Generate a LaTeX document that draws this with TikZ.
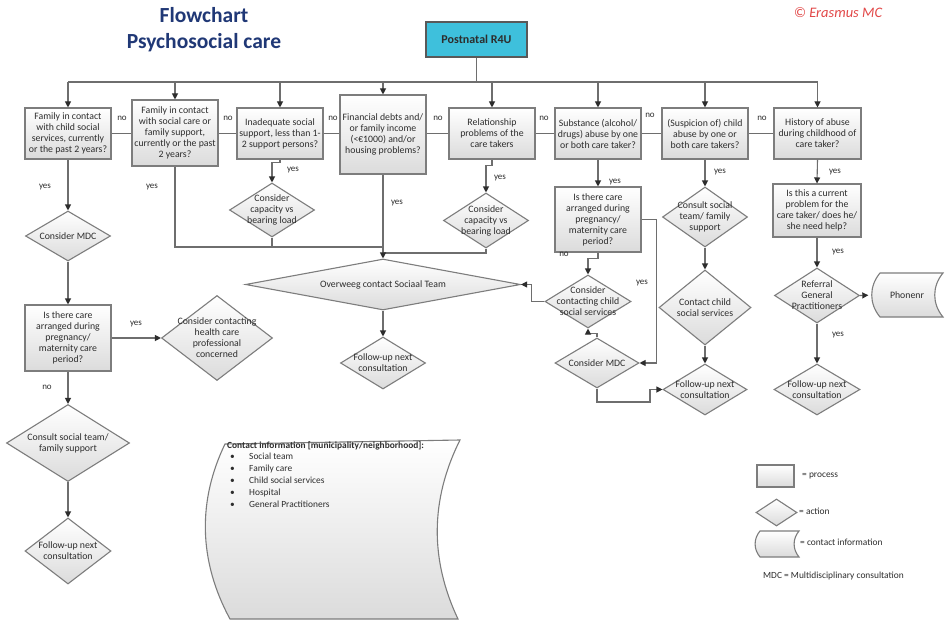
\documentclass[tikz,border=0pt]{standalone}
\usepackage{fontspec}
\setmainfont{Carlito}
\newfontfamily\eurofont{Liberation Sans}
\usetikzlibrary{shapes.geometric,arrows.meta}

\definecolor{edgegray}{RGB}{125,125,125}
\definecolor{wiregray}{RGB}{110,110,110}
\definecolor{tipgray}{RGB}{45,45,45}
\definecolor{titleblue}{RGB}{32,56,118}
\definecolor{startcyan}{RGB}{62,192,220}
\definecolor{logored}{RGB}{226,72,72}
\definecolor{inkgray}{RGB}{45,45,45}

\newcommand\myboxfont{\fontsize{9.8}{11}\selectfont}
\newcommand\mytagfont{\fontsize{9}{10}\selectfont}
\newcommand\mynotefont{\fontsize{9.4}{11.8}\selectfont}
\newcommand\euro{{\eurofont\fontsize{8.6}{11}\selectfont €}}

\tikzset{
  wire/.style={draw=wiregray, line width=1.1pt},
  arr/.style={wire, -{Triangle[length=6pt,width=6pt,color=tipgray]}},
  softfill/.style={top color=white, bottom color=black!14},
  proc/.style 2 args={draw=edgegray, line width=1.1pt, softfill, minimum width=#1, minimum height=#2,
    inner sep=1pt, align=center, font=\myboxfont, text=inkgray},
  dia/.style 2 args={shape=diamond, draw=edgegray, line width=1.1pt, softfill,
    minimum width=#1, minimum height=#2, inner sep=0pt},
  dtext/.style={align=center, font=\myboxfont, text=inkgray, inner sep=0pt},
  tag/.style={font=\mytagfont, text=inkgray, inner sep=0pt},
  note/.style={font=\mynotefont, text=inkgray, inner sep=0pt},
  datashape/.style={draw=edgegray, line width=1.1pt, softfill},
}

\begin{document}
\begin{tikzpicture}[x=1pt,y=-1pt]
\useasboundingbox (0,0) rectangle (946,626);
\fill[white] (0,0) rectangle (946,626);

% headings
\node[font=\fontsize{21.5}{26}\selectfont\bfseries, text=titleblue, align=center] (title) at (204,30)
  {Flowchart\\Psychosocial care};
\node[font=\fontsize{14.5}{16}\selectfont\itshape, text=logored] (copy) at (838,13) {\textcopyright\ Erasmus MC};

% start
\node[draw=black!65, line width=1.1pt, fill=startcyan, minimum width=101pt, minimum height=35pt,
  font=\fontsize{12}{14}\selectfont\bfseries, text=inkgray] (r4u) at (476.5,39.5) {Postnatal R4U};

% screening questions
\node[proc={86pt}{51pt}] (q1) at (68,133.5) {Family in contact\\with child social\\services, currently\\or the past 2 years?};
\node[proc={86pt}{66pt}] (q2) at (175,133) {Family in contact\\with social care or\\family support,\\currently or the past\\2 years?};
\node[proc={86pt}{51pt}] (q3) at (280,133.5) {Inadequate social\\support, less than 1-\\2 support persons?};
\node[proc={86pt}{79pt}] (q4) at (383,134.5) {Financial debts and/\\or family income\\(<\euro1000) and/or\\housing problems?};
\node[proc={86pt}{51pt}] (q5) at (492,133.5) {Relationship\\problems of the\\care takers};
\node[proc={86pt}{51pt}] (q6) at (598,133.5) {Substance (alcohol/\\drugs) abuse by one\\or both care taker?};
\node[proc={86pt}{51pt}] (q7) at (705,133.5) {(Suspicion of) child\\abuse by one or\\both care takers?};
\node[proc={87pt}{51pt}] (q8) at (817.5,133.5) {History of abuse\\during childhood of\\care taker?};

% bus from the start box
\coordinate (busL) at (68,82);
\coordinate (busR) at (817.5,82);
\draw[wire] (r4u.south) -- (r4u.south |- busL);
\draw[wire] (busL) -- (busR);
\foreach \q in {q1,q2,q3,q4,q5,q6,q7,q8}
  \draw[arr] (\q.north |- busL) -- (\q.north);

% "no" links between the questions
\draw[wire] (q1.east) -- (q1.east -| q2.west);
\draw[wire] (q2.east |- q1.east) -- (q3.west);
\draw[wire] (q3.east) -- (q3.east -| q4.west);
\draw[wire] (q4.east |- q3.east) -- (q5.west);
\draw[wire] (q5.east) -- (q6.west);
\draw[wire] (q6.east) -- (q7.west);
\draw[wire] (q7.east) -- (q8.west);
\node[tag] (n12) at (122,118) {no};
\node[tag] (n23) at (228,118) {no};
\node[tag] (n34) at (333,118) {no};
\node[tag] (n45) at (438,118) {no};
\node[tag] (n56) at (544,118) {no};
\node[tag] (n67) at (650,115) {no};
\node[tag] (n78) at (762,118) {no};

% left column
\node[dia={85pt}{50pt}] (mdcA) at (68,236) {};
\node[dtext] (mdcAt) at (mdcA) {Consider MDC};
\node[proc={86pt}{66pt}] (careA) at (68,338) {Is there care\\arranged during\\pregnancy/\\maternity care\\period?};
\node[dia={111pt}{85pt}] (hcp) at (217,338) {};
\node[dtext] (hcpt) at (hcp) {Consider contacting\\health care\\professional\\concerned};
\node[dia={123pt}{77pt}] (teamA) at (68,443) {};
\node[dtext] (teamAt) at (teamA) {Consult social team/\\family support};
\node[dia={86pt}{66pt}] (fuA) at (68,551) {};
\node[dtext] (fuAt) at (fuA) {Follow-up next\\consultation};

\draw[arr] (q1.south) -- (mdcA.north);
\draw[arr] (mdcA.south) -- (careA.north);
\draw[arr] (careA.east) -- (hcp.west);
\draw[arr] (careA.south) -- (teamA.north);
\draw[arr] (teamA.south) -- (fuA.north);
\node[tag] (y1) at (45,187) {yes};
\node[tag] (yA) at (136,324) {yes};
\node[tag] (nA) at (47,387) {no};

% middle: capacity checks and the social team
\node[dia={85pt}{54pt}] (capA) at (272,210) {};
\node[dtext] (capAt) at (capA) {Consider\\capacity vs\\bearing load};
\node[dia={85pt}{55pt}] (capB) at (486,220.5) {};
\node[dtext] (capBt) at (capB) {Consider\\capacity vs\\bearing load};
\node[dia={275pt}{51pt}] (team) at (383,284.5) {};
\node[dtext] (teamt) at (team) {Overweeg contact Sociaal Team};
\node[dia={85pt}{52pt}] (fuB) at (383,363) {};
\node[dtext] (fuBt) at (fuB) {Follow-up next\\consultation};

\coordinate (j1) at (383,247);
\coordinate (j2) at (383,253);
\draw[arr] (q3.south) -- ++(0,3) -| (capA.north);
\draw[arr] (q5.south) -- ++(0,6) -| (capB.north);
\draw[wire] (q2.south) |- (j1);
\draw[wire] (capA.south) -- (capA.south |- j1);
\draw[wire] (capB.south) |- (j2);
\draw[arr] (q4.south) -- (team.north);
\draw[arr] (team.south) -- (fuB.north);
\node[tag] (y2) at (152,187) {yes};
\node[tag] (y3) at (293,170) {yes};
\node[tag] (y4) at (397,203) {yes};
\node[tag] (y5) at (500,178) {yes};

% substance abuse branch
\node[proc={86pt}{65pt}] (careB) at (598,219.5) {Is there care\\arranged during\\pregnancy/\\maternity care\\period?};
\node[dia={86pt}{53pt}] (child) at (588,301.5) {};
\node[dtext] (childt) at (child) {Consider\\contacting child\\social services};
\node[dia={84pt}{50pt}] (mdcB) at (597,363) {};
\node[dtext] (mdcBt) at (mdcB) {Consider MDC};

\coordinate (k1) at (650,402);
\draw[arr] (q6.south) -- (careB.north);
\draw[arr] (careB.south) -- ++(0,6) -| (child.north);
\draw[arr] (child.west) -- ++(-13,0) |- (team.east);
\draw[arr] (careB.east) -- ++(15,0) |- (mdcB.east);
\draw[arr] (mdcB.north) -- ++(0,-4) -| (child.south);
\node[tag] (y6) at (615,182) {yes};
\node[tag] (nB) at (564,254) {no};
\node[tag] (yB) at (642,283) {yes};

% child abuse branch
\node[dia={85pt}{60pt}] (teamB) at (705,217) {};
\node[dtext] (teamBt) at (teamB) {Consult social\\team/ family\\support};
\node[dia={92pt}{75pt}] (cps) at (705,307.5) {};
\node[dtext] (cpst) at (cps) {Contact child\\social services};
\node[dia={84pt}{51pt}] (fuC) at (705,389.5) {};
\node[dtext] (fuCt) at (fuC) {Follow-up next\\consultation};

\draw[arr] (q7.south) -- (teamB.north);
\draw[arr] (teamB.south) -- (cps.north);
\draw[arr] (cps.south) -- (fuC.north);
\draw[arr] (mdcB.south) |- (k1) |- (fuC.west);
\node[tag] (y7) at (720,172) {yes};

% history of abuse branch
\node[proc={88pt}{53pt}] (help) at (817,210.5) {Is this a current\\problem for the\\care taker/ does he/\\she need help?};
\node[dia={85pt}{55pt}] (gp) at (817,295.5) {};
\node[dtext] (gpt) at (gp) {Referral\\General\\Practitioners};
\node[dia={86pt}{51pt}] (fuD) at (817,389.5) {};
\node[dtext] (fuDt) at (fuD) {Follow-up next\\consultation};

\path[datashape] (880,273) -- (943,273) to[bend right=40] (943,317) -- (880,317) to[bend left=40] (880,273) -- cycle;
\node[minimum width=63pt, minimum height=44pt, inner sep=0pt, font=\myboxfont, text=inkgray] (phone) at (907,295) {Phonenr};

\draw[arr] (q8.south) -- (help.north);
\draw[arr] (help.south) -- (gp.north);
\draw[arr] (gp.south) -- (fuD.north);
\draw[arr, shorten >=7pt] (gp.east) -- (phone.west);
\node[tag] (y8) at (835,172) {yes};
\node[tag] (yC) at (838,252) {yes};
\node[tag] (yD) at (838,335) {yes};

% contact information sheet
\path[datashape] (225,444) -- (460,440) .. controls (430,500) and (430,560) .. (458,619)
  -- (230,619) .. controls (198,560) and (198,500) .. (225,444) -- cycle;
\node[note, anchor=north west, align=left] (contacts) at (227,441)
  {{\bfseries Contact information [municipality/neighborhood]:}\\
   \hspace*{3pt}\makebox[19pt][l]{\textbullet}Social team\\
   \hspace*{3pt}\makebox[19pt][l]{\textbullet}Family care\\
   \hspace*{3pt}\makebox[19pt][l]{\textbullet}Child social services\\
   \hspace*{3pt}\makebox[19pt][l]{\textbullet}Hospital\\
   \hspace*{3pt}\makebox[19pt][l]{\textbullet}General Practitioners};

% legend
\node[proc={37pt}{22pt}] (lgProc) at (775.5,476) {};
\node[note, anchor=west] (lgProcT) at (802,476) {= process};
\node[dia={41pt}{27pt}] (lgAct) at (776.5,512.5) {};
\node[note, anchor=west] (lgActT) at (799,511) {= action};
\path[datashape] (760,531) -- (799,531) to[bend right=40] (799,557) -- (760,557) to[bend left=40] (760,531) -- cycle;
\node[note, anchor=west] (lgDataT) at (800,542) {= contact information};
\node[note, anchor=west] (lgMdc) at (763,576) {MDC = Multidisciplinary consultation};
\end{tikzpicture}
\end{document}
